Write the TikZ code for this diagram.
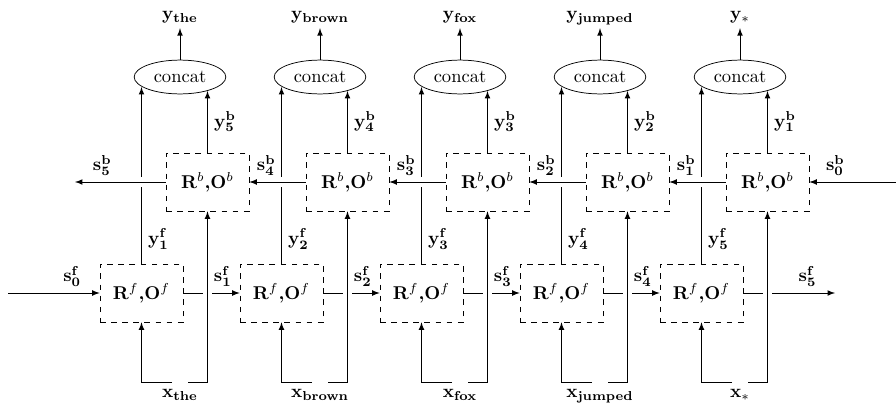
\documentclass[tikz,border=0pt]{standalone}
\usepackage{amsmath}
\usepackage{amssymb}
\usetikzlibrary{shapes.geometric, arrows, calc, positioning}
\tikzstyle{cell} = [rectangle, dashed, draw=black, minimum width=44.8pt, minimum height=31.3pt, font=\bfseries]
\tikzstyle{merge} = [ellipse, draw=black]
\tikzstyle{word} = [text height=1.1ex, text depth=0.3ex]
\tikzstyle{arrow} = [->,>=latex]
\tikzstyle{over} = [preaction={draw=white, line width=5pt, -, shorten <=2pt, shorten >=2pt}]

\begin{document}
\begin{tikzpicture}[x=0.54pt, y=-0.54pt]
    \useasboundingbox (0,0) rectangle (896,406);

    \foreach \w [count=\i] in {the,brown,fox,jumped,*} {
        \node (f\i) [cell] at ({1.5+140*\i},293) {R$^f$,O$^f$};
        \node (b\i) [cell] at ({67.5+140*\i},182) {R$^b$,O$^b$};
        \node (c\i) [merge] at ({40+140*\i},77) {concat};
        \node (y\i) [word, above=17pt of c\i] {$\mathbf{y}_{\mathbf{\w}}$};
        \node (x\i) [word, anchor=north] at ({40+140*\i},382) {$\mathbf{x}_{\mathbf{\w}}$};
    }
    \coordinate (sf0) at (8,293);
    \coordinate (sf5) at (835,293);
    \coordinate (sb0) at (896,182);
    \coordinate (sb5) at (75,182);

    % forward pass
    \draw [arrow] (sf0) -- node[pos=0.7, above] {$\mathbf{s^f_0}$} (f1);
    \foreach \i [evaluate=\i as \j using int(\i+1)] in {1,...,4}
        \draw [arrow] (f\i) -- node[pos=0.7, above] {$\mathbf{s^f_\i}$} (f\j);
    \draw [arrow] (f5) -- node[pos=0.7, above] {$\mathbf{s^f_5}$} (sf5);

    % outputs into concat
    \foreach \i [evaluate=\i as \k using int(6-\i)] in {1,...,5} {
        \draw [arrow] (f\i.north) -- node[pos=0.14, right] {$\mathbf{y^f_\i}$} (f\i.north |- c\i.195);
        \draw [arrow] (b\i.north) -- node[right] {$\mathbf{y^b_\k}$} (b\i.north |- c\i.333);
        \draw [arrow] (c\i) -- (y\i);
        \draw [arrow] ($(x\i.north)+(-8,0)$) -| (f\i.south);
    }

    % backward pass
    \draw [arrow, over] (b1) -- node[pos=0.7, above] {$\mathbf{s^b_5}$} (sb5);
    \foreach \i [evaluate=\i as \j using int(\i+1), evaluate=\i as \k using int(5-\i)] in {1,...,4}
        \draw [arrow, over] (b\j) -- node[pos=0.7, above] {$\mathbf{s^b_\k}$} (b\i);
    \draw [arrow, over] (sb0) -- node[pos=0.7, above] {$\mathbf{s^b_0}$} (b5);

    \foreach \i in {1,...,5}
        \draw [arrow, over] ($(x\i.north)+(8,0)$) -| (b\i.south);

\end{tikzpicture}
\end{document}
